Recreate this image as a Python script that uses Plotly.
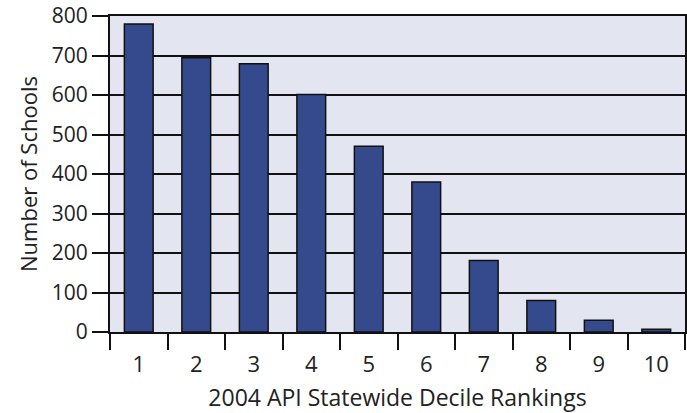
import plotly.graph_objects as go

# Decile rankings and number of schools in each
deciles = ['1', '2', '3', '4', '5', '6', '7', '8', '9', '10']
schools = [780, 694, 679, 601, 470, 380, 181, 80, 30, 7]

fig = go.Figure(go.Bar(
    x=deciles, y=schools,
    width=0.5,
    marker=dict(color='#344a8c', line=dict(color='#111111', width=1.5)),
))

font_name = 'Open Sans'

fig.update_layout(
    width=687, height=413,
    margin=dict(l=110, r=2, t=16, b=81),
    paper_bgcolor='white',
    plot_bgcolor='#e3e6f0',
    font=dict(family=font_name, size=20, color='#222222'),
    showlegend=False,
    bargap=0.5,
)

fig.update_xaxes(
    type='category', automargin=False,
    showline=True, linecolor='#111111', linewidth=2, mirror=True,
    ticks='outside', tickson='boundaries', ticklen=16, tickwidth=1.5, tickcolor='#111111',
    ticklabelstandoff=12,
    showgrid=False,
    title=dict(text='2004 API Statewide Decile Rankings', standoff=12, font=dict(size=23)),
    tickfont=dict(size=22),
)

fig.update_yaxes(
    range=[0, 800], dtick=100, automargin=False,
    showline=True, linecolor='#111111', linewidth=2, mirror=True,
    ticks='outside', ticklen=16, tickwidth=1.5, tickcolor='#111111',
    ticklabeloverflow='allow',
    showgrid=True, gridcolor='#111111', gridwidth=1.5,
    zeroline=False,
    title=dict(text='Number of Schools', standoff=8, font=dict(size=22)),
    tickfont=dict(size=21),
)

# drop the browser's default body margin so the figure sits at the page corner
fig.write_html('out.html', config={'displayModeBar': False},
               post_script="document.body.style.margin='0';")
